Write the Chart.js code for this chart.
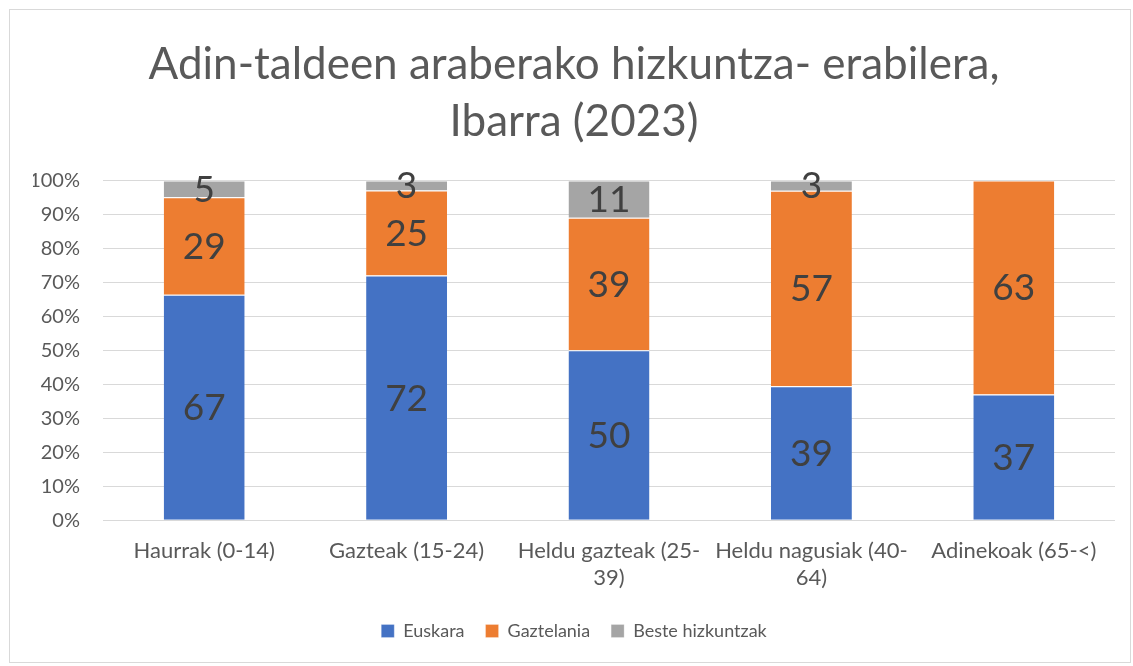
<!DOCTYPE html>
<html lang="eu">
<head>
  <meta charset="UTF-8" />
  <title>Adin-taldeen araberako hizkuntza-erabilera</title>
  <script src="https://cdn.jsdelivr.net/npm/chart.js"></script>
  <style>
    html, body { margin: 0; padding: 0; background: #fff; }
    #wrap { position: relative; width: 1133px; height: 666px; }
    #frame {
      position: absolute; left: 9px; top: 9px; width: 1120px; height: 652px;
      border: 1px solid #d9d9d9; pointer-events: none;
    }
  </style>
</head>
<body>
  <div id="wrap">
    <canvas id="chart" width="1133" height="666"></canvas>
    <div id="frame"></div>
  </div>

  <script>
    const categories = [
      'Haurrak (0-14)',
      'Gazteak (15-24)',
      ['Heldu gazteak (25-', '39)'],
      ['Heldu nagusiak (40-', '64)'],
      'Adinekoak (65-<)'
    ];
    const euskara = [67, 72, 50, 39, 37];
    const gaztelania = [29, 25, 39, 57, 63];
    const beste = [5, 3, 11, 3, 0];

    const textColor = '#595959';
    const fontFamily = 'Lato, "Open Sans", sans-serif';

    // 100% stacked: each column is scaled to its own total
    const totals = euskara.map((v, i) => v + gaztelania[i] + beste[i]);
    const share = arr => arr.map((v, i) => v / totals[i] * 100);

    const raw = [euskara, gaztelania, beste];

    const barLabels = {
      id: 'barLabels',
      afterDatasetsDraw(chart) {
        const ctx = chart.ctx;
        ctx.save();
        ctx.font = '37px ' + fontFamily;
        ctx.fillStyle = '#404040';
        ctx.textAlign = 'center';
        ctx.textBaseline = 'middle';
        chart.data.datasets.forEach((ds, di) => {
          chart.getDatasetMeta(di).data.forEach((bar, i) => {
            const v = raw[di][i];
            if (!v) return;
            ctx.fillText(String(v), bar.x, (bar.y + bar.base) / 2 + 1);
          });
        });
        ctx.restore();
      }
    };

    new Chart(document.getElementById('chart').getContext('2d'), {
      type: 'bar',
      data: {
        labels: categories,
        datasets: [
          { label: 'Euskara', data: share(euskara), backgroundColor: '#4472c4' },
          { label: 'Gaztelania', data: share(gaztelania), backgroundColor: '#ed7d31' },
          { label: 'Beste hizkuntzak', data: share(beste), backgroundColor: '#a5a5a5' }
        ]
      },
      options: {
        responsive: false,
        animation: false,
        datasets: {
          bar: {
            categoryPercentage: 1,
            barPercentage: 0.4,
            borderColor: '#ffffff',
            borderWidth: { top: 1 }
          }
        },
        layout: { padding: { left: 33, right: 18, top: 10, bottom: 16 } },
        plugins: {
          title: {
            display: true,
            text: ['Adin-taldeen araberako hizkuntza- erabilera,', 'Ibarra (2023)'],
            color: textColor,
            font: { family: fontFamily, size: 44, weight: 'normal', lineHeight: 1.3 },
            padding: { top: 26, bottom: 30 }
          },
          legend: {
            position: 'bottom',
            labels: {
              color: textColor,
              font: { family: fontFamily, size: 18 },
              boxWidth: 13,
              boxHeight: 13,
              padding: 21
            }
          },
          tooltip: { enabled: false }
        },
        scales: {
          x: {
            stacked: true,
            grid: { display: false },
            border: { display: false },
            ticks: {
              color: textColor,
              font: { family: fontFamily, size: 22 },
              maxRotation: 0,
              padding: 10
            }
          },
          y: {
            stacked: true,
            min: 0,
            max: 100,
            afterFit(scale) { scale.width = 70; },
            grid: { color: '#d9d9d9', lineWidth: 1, drawTicks: false },
            border: { display: false },
            ticks: {
              stepSize: 10,
              color: textColor,
              font: { family: fontFamily, size: 20 },
              padding: 23,
              callback: v => v + '%'
            }
          }
        }
      },
      plugins: [barLabels]
    });
  </script>
</body>
</html>
